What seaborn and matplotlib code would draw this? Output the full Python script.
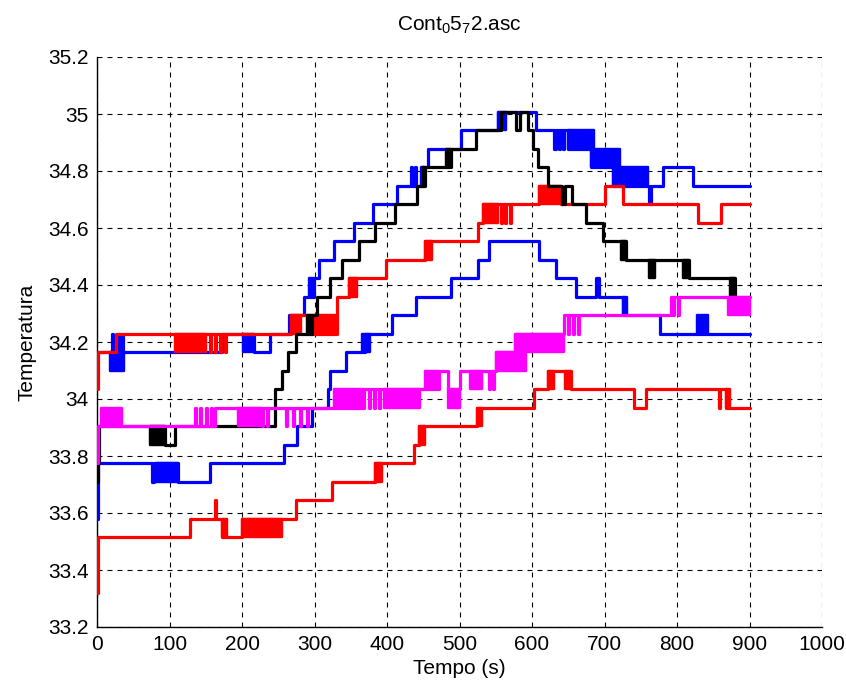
import numpy as np
import matplotlib
matplotlib.use("Agg")
import matplotlib.pyplot as plt
import seaborn as sns

# ---------------------------------------------------------------------------
# Sensor temperature logs (step-wise, quantised readings).
# Each series: breakpoint times (s) and level held from that time on,
# plus "chatter" intervals where the reading flickers between two levels.
# ---------------------------------------------------------------------------

# blue, upper sensor
t_b1 = [0, 20, 21.5, 30, 31.5, 35, 36.5, 172, 216, 239, 265, 285, 299, 306, 327,
        354, 380, 414, 433, 434.5, 438, 439.5, 451, 456, 502, 553, 606, 631,
        632.5, 637, 638.5, 643, 644.5, 649, 682, 712, 762, 764, 781, 822, 900]
v_b1 = [34.164, 34.229, 34.164, 34.229, 34.164, 34.229, 34.164, 34.229, 34.164,
        34.229, 34.294, 34.358, 34.423, 34.488, 34.553, 34.618, 34.683, 34.748,
        34.813, 34.748, 34.813, 34.748, 34.813, 34.878, 34.943, 35.007, 34.943,
        34.878, 34.943, 34.878, 34.943, 34.878, 34.943, 34.878, 34.813, 34.748,
        34.683, 34.748, 34.813, 34.748, 34.748]
chatter_b1 = [(18, 37, 34.099, 34.164), (202, 216, 34.164, 34.229),
              (292, 299, 34.358, 34.423), (447, 451, 34.748, 34.813),
              (553, 564, 34.943, 35.007), (649, 686, 34.878, 34.943),
              (682, 721, 34.813, 34.878), (712, 760, 34.748, 34.813)]

# blue, lower sensor
t_b2 = [0, 1.5, 76, 78, 112, 156, 258, 276, 297, 319, 321, 343, 370, 407, 440,
        488, 525, 541, 610, 633, 661, 688, 693, 725, 776, 900]
v_b2 = [33.58, 33.774, 33.709, 33.774, 33.709, 33.774, 33.839, 33.904, 33.969,
        34.034, 34.099, 34.164, 34.229, 34.294, 34.358, 34.423, 34.488, 34.553,
        34.488, 34.423, 34.358, 34.423, 34.358, 34.294, 34.229, 34.229]
chatter_b2 = [(82, 112, 33.709, 33.774), (365, 377, 34.164, 34.229),
              (725, 731, 34.294, 34.358), (827, 843, 34.229, 34.294)]

# red, upper sensor
t_r1 = [0, 1, 26, 156, 157.5, 163, 164.5, 170, 171.5, 176, 177.5, 268, 296, 331,
        347, 398, 453, 525, 532, 557, 558.5, 563, 564.5, 569, 570.5, 610, 640,
        700, 725, 829, 861, 900]
v_r1 = [34.034, 34.164, 34.229, 34.164, 34.229, 34.164, 34.229, 34.164, 34.229,
        34.164, 34.229, 34.294, 34.229, 34.358, 34.423, 34.488, 34.553, 34.618,
        34.683, 34.618, 34.683, 34.618, 34.683, 34.618, 34.683, 34.748, 34.683,
        34.748, 34.683, 34.618, 34.683, 34.683]
chatter_r1 = [(108, 150, 34.164, 34.229), (268, 281, 34.229, 34.294),
              (296, 330, 34.229, 34.294), (347, 359, 34.358, 34.423),
              (453, 462, 34.488, 34.553), (532, 553, 34.618, 34.683),
              (610, 640, 34.683, 34.748)]

# black sensor
t_k = [0, 1, 3, 94, 108, 246, 255, 264, 274, 296, 304, 322, 338, 362, 384, 411,
       441, 453, 488, 523, 557, 578, 584, 594, 601, 608, 622, 642, 645, 655, 674,
       698, 730, 769, 817, 880]
v_k = [33.709, 33.774, 33.904, 33.839, 33.904, 34.034, 34.099, 34.164, 34.229,
       34.294, 34.358, 34.423, 34.488, 34.553, 34.618, 34.683, 34.748, 34.813,
       34.878, 34.943, 35.007, 34.943, 35.007, 34.943, 34.878, 34.813, 34.748,
       34.683, 34.748, 34.683, 34.618, 34.553, 34.488, 34.488, 34.423, 34.358]
chatter_k = [(73, 94, 33.839, 33.904), (289, 296, 34.229, 34.294),
             (449, 453, 34.748, 34.813), (481, 488, 34.813, 34.878),
             (723, 730, 34.488, 34.553), (762, 769, 34.423, 34.488),
             (808, 817, 34.423, 34.488), (873, 880, 34.358, 34.423)]

# magenta sensor
t_m = [0, 1.5, 135, 136.5, 142, 143.5, 150, 151.5, 157, 158.5, 163, 228, 229.5,
       234, 235.5, 260, 261.5, 270, 271.5, 280, 281.5, 290, 291.5, 368, 375,
       376.5, 382, 383.5, 389, 390.5, 472, 484, 500, 540, 541.5, 546, 547.5, 550,
       577, 644, 649, 650.5, 656, 657.5, 663, 664.5, 792, 795, 796.5, 801, 802.5,
       900]
v_m = [33.774, 33.904, 33.969, 33.904, 33.969, 33.904, 33.969, 33.904, 33.969,
       33.904, 33.969, 33.904, 33.969, 33.904, 33.969, 33.904, 33.969, 33.904,
       33.969, 33.904, 33.969, 33.904, 33.969, 34.034, 33.969, 34.034, 33.969,
       34.034, 33.969, 34.034, 34.099, 34.034, 34.099, 34.034, 34.099, 34.034,
       34.099, 34.164, 34.229, 34.294, 34.229, 34.294, 34.229, 34.294, 34.229,
       34.294, 34.358, 34.294, 34.358, 34.294, 34.358, 34.358]
chatter_m = [(5, 34, 33.904, 33.969), (195, 228, 33.904, 33.969),
             (327, 368, 33.969, 34.034), (396, 446, 33.969, 34.034),
             (453, 472, 34.034, 34.099), (484, 500, 33.969, 34.034),
             (515, 531, 34.034, 34.099), (550, 592, 34.099, 34.164),
             (577, 644, 34.164, 34.229), (870, 900, 34.294, 34.358)]

# red, lower sensor
t_r2 = [0, 1, 128.6, 163, 164.5, 172, 200, 275, 324.5, 384, 437, 444, 524, 603,
        622, 654, 741, 757, 858, 859.5, 868, 900]
v_r2 = [33.32, 33.515, 33.58, 33.645, 33.58, 33.515, 33.58, 33.645, 33.709,
        33.774, 33.839, 33.904, 33.969, 34.034, 34.099, 34.034, 33.969, 34.034,
        33.969, 34.034, 33.969, 33.969]
chatter_r2 = [(172, 179, 33.515, 33.58), (200, 255, 33.515, 33.58),
              (384, 393, 33.709, 33.774), (444, 453, 33.839, 33.904),
              (524, 531, 33.904, 33.969), (622, 630, 34.034, 34.099),
              (646, 654, 34.034, 34.099), (868, 873, 33.969, 34.034)]

x_ticks = [0, 100, 200, 300, 400, 500, 600, 700, 800, 900, 1000]
y_ticks = [33.2, 33.4, 33.6, 33.8, 34.0, 34.2, 34.4, 34.6, 34.8, 35.0, 35.2]
y_tick_labels = ["33.2", "33.4", "33.6", "33.8", "34", "34.2", "34.4",
                 "34.6", "34.8", "35", "35.2"]

series = [
    (t_b1, v_b1, chatter_b1, "#0000ff"),
    (t_b2, v_b2, chatter_b2, "#0000ff"),
    (t_r1, v_r1, chatter_r1, "#ff0000"),
    (t_k, v_k, chatter_k, "#000000"),
    (t_m, v_m, chatter_m, "#ff00ff"),
    (t_r2, v_r2, chatter_r2, "#ff0000"),
]

sns.set_theme(style="white")
plt.rcParams["font.family"] = ["Liberation Sans", "DejaVu Sans"]
plt.rcParams["mathtext.default"] = "regular"

fig = plt.figure(figsize=(8.46, 6.90), dpi=100)
fig.patch.set_facecolor("white")
ax = fig.add_axes([97 / 846, 1 - 627 / 690, (822 - 97) / 846, (627 - 57) / 690])
ax.set_facecolor("white")

LW = 2.3
for z, (t, v, chatter, color) in enumerate(series, start=3):
    for t0, t1, lo, hi in chatter:
        ax.fill_between([t0, t1], [lo, lo], [hi, hi], color=color,
                        edgecolor=color, linewidth=LW * 0.75, zorder=z)
    sns.lineplot(x=t, y=v, ax=ax, color=color, linewidth=LW,
                 drawstyle="steps-post", estimator=None, sort=False,
                 legend=False, zorder=z)

ax.set_xlim(0, 1000)
ax.set_ylim(33.2, 35.2)
ax.set_xticks(x_ticks)
ax.set_xticklabels([str(x) for x in x_ticks])
ax.set_yticks(y_ticks)
ax.set_yticklabels(y_tick_labels)

ax.grid(True, color="black", linestyle=(0, (4.5, 4.5)), linewidth=0.8)
ax.set_axisbelow(True)

for side in ("top", "right"):
    ax.spines[side].set_visible(False)
for side in ("left", "bottom"):
    ax.spines[side].set_color("black")
    ax.spines[side].set_linewidth(1.0)

ax.tick_params(axis="both", direction="in", length=5, width=0.8,
               colors="black", labelsize=15, pad=6)

ax.set_title(r"Cont$_0$5$_7$2.asc", fontsize=15, pad=19, color="black")
ax.set_xlabel("Tempo (s)", fontsize=15, labelpad=3, color="black")
ax.set_ylabel("Temperatura", fontsize=15, labelpad=8, color="black")

fig.savefig("out.png", dpi=100, facecolor="white")
